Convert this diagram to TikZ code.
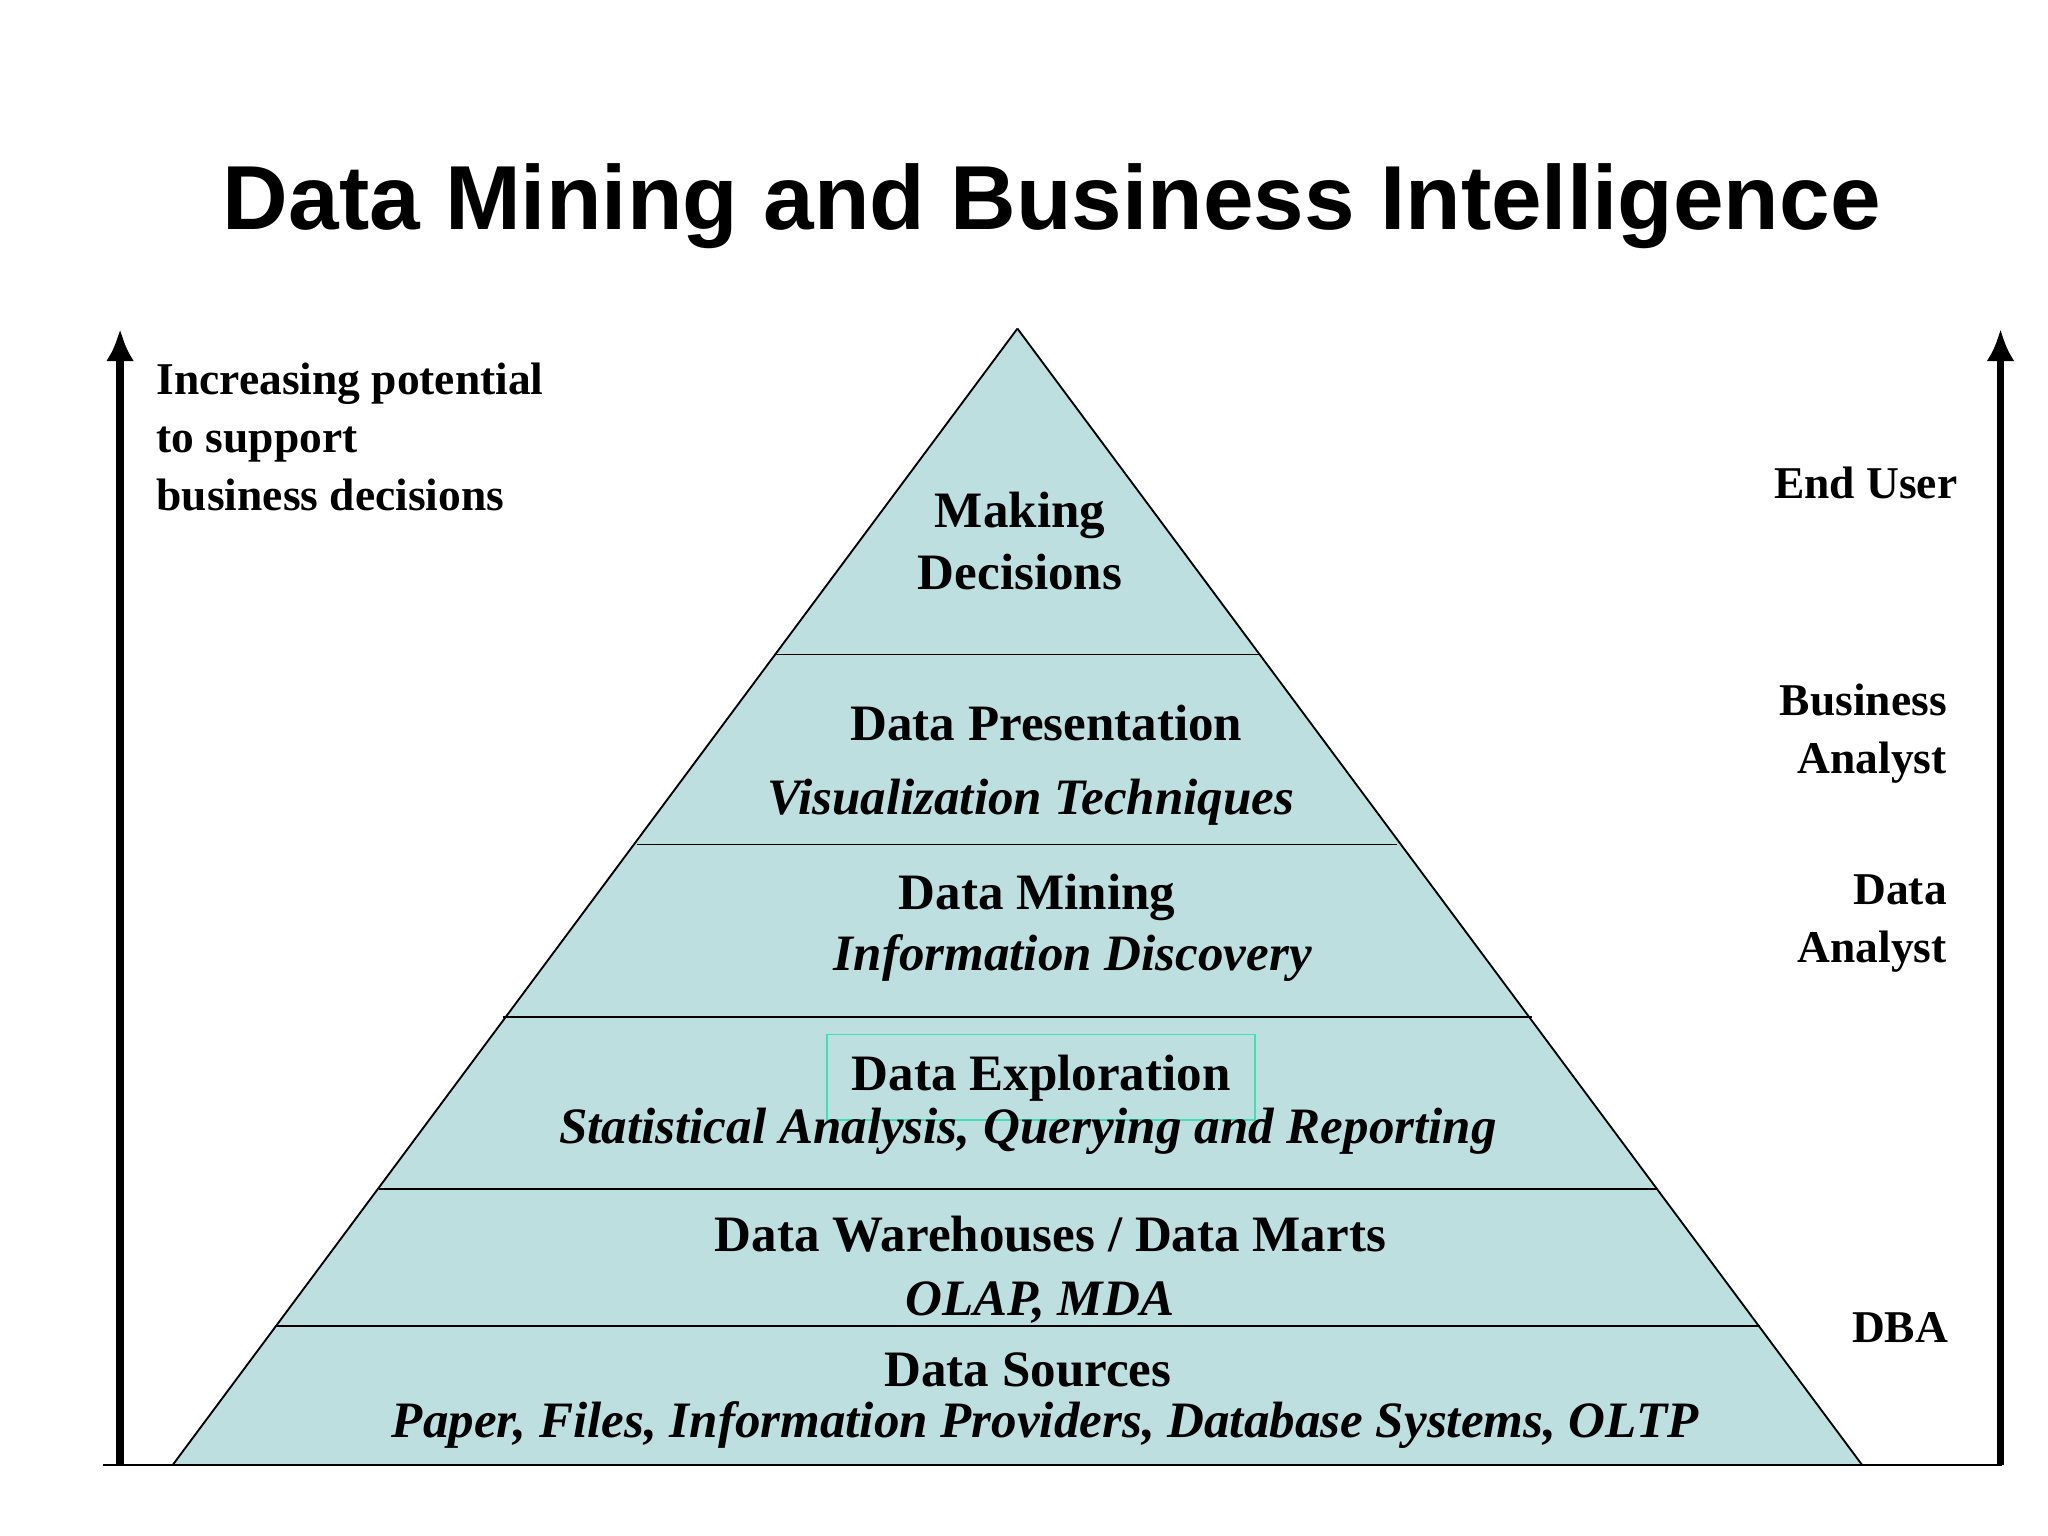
\documentclass[tikz,border=0pt]{standalone}
\usepackage{fontspec}
\setmainfont{Liberation Serif}
\newfontfamily\titlefont{Liberation Sans}
\usetikzlibrary{arrows.meta}
\definecolor{pyr}{HTML}{BEDFE0}
\definecolor{gbox}{HTML}{40E0B0}
\begin{document}
\begin{tikzpicture}[x=0.01cm,y=-0.01cm,
  lbl/.style={font=\bfseries\fontsize{11}{13.4}\selectfont,align=center,inner sep=0},
  ilbl/.style={font=\bfseries\itshape\fontsize{11}{13}\selectfont,inner sep=0},
  side/.style={font=\bfseries\fontsize{9.8}{11.6}\selectfont,inner sep=0},
  axis/.style={line width=1.6pt,-{Latex[length=7pt,width=6pt]}}]
\useasboundingbox (0,0) rectangle (1552,1164);
\node[font=\titlefont\bfseries\fontsize{19.6}{22}\selectfont] (title) at (797,156) {Data Mining and Business Intelligence};
\coordinate (apex) at (771,249);
\coordinate (bl) at (131,1110);
\coordinate (br) at (1411,1110);
\fill[pyr] (apex) -- (bl) -- (br) -- cycle;
\draw[thin] (apex) -- (bl); \draw[thin] (apex) -- (br);
\foreach \y/\a/\b in {496/587/955,640/483/1059,771/381/1161,901/287/1256,1005/209/1334}
  \draw[thin] (\a,\y) -- (\b,\y);
\coordinate (gl) at (78,1110); \coordinate (gr) at (1517,1110);
\draw[thin] (gl) -- (gr);
\coordinate (la0) at (91,1110); \coordinate (la1) at (91,249);
\coordinate (ra0) at (1516,1110); \coordinate (ra1) at (1516,249);
\draw[axis] (la0) -- (la1);
\draw[axis] (ra0) -- (ra1);
\node[lbl] (md) at (773,410) {Making\\Decisions};
\node[lbl] (dp) at (793,548) {Data Presentation};
\node[ilbl] (vt) at (781,608) {Visualization Techniques};
\node[lbl] (dm) at (786,680) {Data Mining};
\node[ilbl] (id) at (813,726) {Information Discovery};
\node[lbl] (de) at (789,817) {Data Exploration};
\draw[gbox,thin] (627,784) rectangle (951,849);
\node[ilbl] (sa) at (779,857) {Statistical Analysis, Querying and Reporting};
\node[lbl] (dw) at (796,935) {Data Warehouses / Data Marts};
\node[ilbl] (ol) at (788,987) {OLAP, MDA};
\node[lbl] (ds) at (779,1038) {Data Sources};
\node[ilbl] (pf) at (792,1080) {Paper, Files, Information Providers, Database Systems, OLTP};
\node[side,align=left,anchor=north west] (inc) at (118,274) {Increasing potential\\[1pt]to support\\[1pt]business decisions};
\node[side,anchor=east] (eu) at (1484,366) {End User};
\node[side,align=right,anchor=east] (ba) at (1476,556) {Business\\[1pt]Analyst};
\node[side,align=right,anchor=east] (da) at (1476,700) {Data\\[1pt]Analyst};
\node[side,anchor=east] (dba) at (1477,1006) {DBA};
\end{tikzpicture}
\end{document}
